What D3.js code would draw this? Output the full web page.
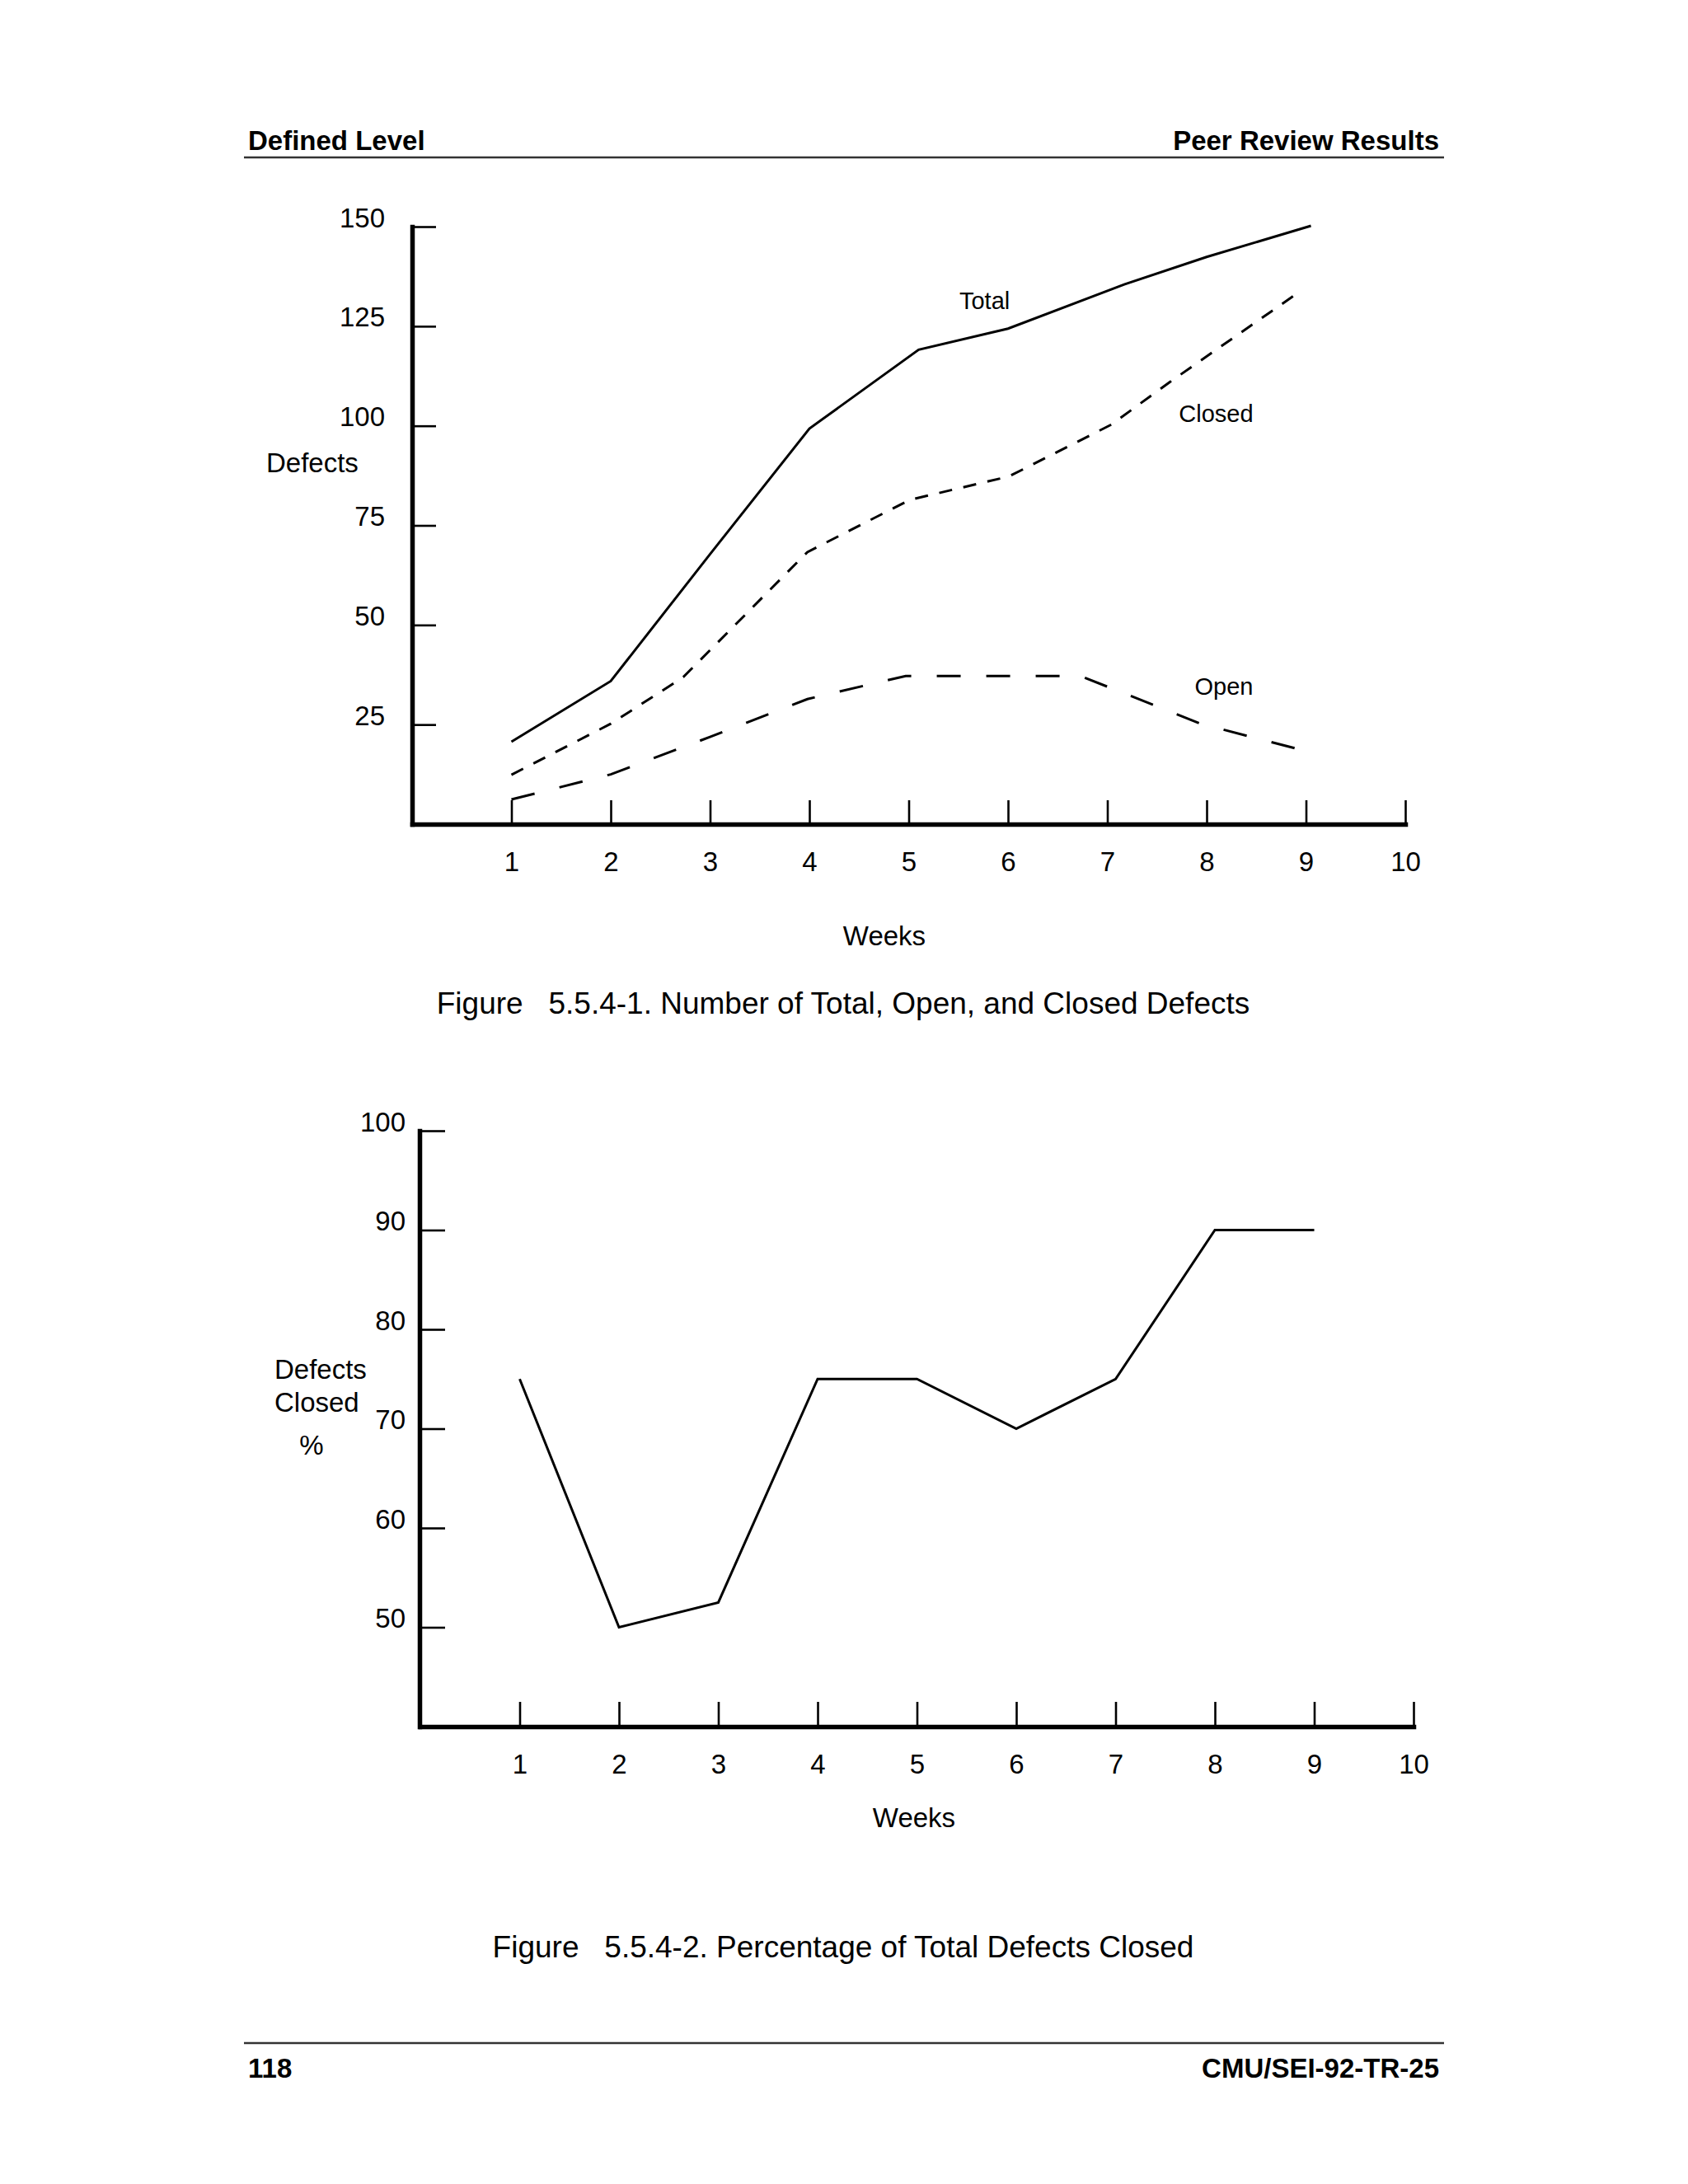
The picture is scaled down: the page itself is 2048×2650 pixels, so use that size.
<!DOCTYPE html>
<html>
<head>
<meta charset="utf-8">
<script src="https://cdn.jsdelivr.net/npm/d3@7"></script>
<style>
  body { margin: 0; background: #fff; }
  svg { display: block; font-family: "Liberation Sans", Arial, Helvetica, sans-serif; }
</style>
</head>
<body>
<div id="page"></div>
<script>
// tick values
const weekTicks = [1, 2, 3, 4, 5, 6, 7, 8, 9, 10]
const defectTicks = [25, 50, 75, 100, 125, 150]
const percentTicks = [50, 60, 70, 80, 90, 100]

// figure 5.5.4-1 (some bends sit a bit off the week ticks)
const totalWeeks = [1, 2, 3, 4, 5.1, 6, 7.17, 8, 9.05]
const totalDefects = [20.7, 35.9, 67.8, 99.3, 119.1, 124.4, 135.5, 142.4, 150.2]

const closedWeeks = [1, 2, 2.73, 3.98, 5.01, 6.01, 7.04, 7.63, 8.92]
const closedDefects = [12.4, 25.2, 36.9, 68.3, 81.4, 87.3, 100.3, 111, 133.4]

const openWeeks = [1, 2, 3, 3.98, 4.97, 6.73, 7.94, 8.99]
const openDefects = [6.2, 12.5, 21.9, 31.4, 37.2, 37.2, 25.2, 18.4]

// figure 5.5.4-2
const pctWeeks = [1, 2, 3, 4, 5, 6, 7, 8, 9]
const pctClosed = [75, 50, 52.5, 75, 75, 70, 75, 90, 90]


const width = 2048
const height = 2650

const svg = d3.select("#page")
    .append("svg")
    .attr("width", width)
    .attr("height", height)

svg.append("rect").attr("width", width).attr("height", height).attr("fill", "#fff")

// page header / footer
const pageRule = (y) => svg.append("line")
    .attr("x1", 296).attr("x2", 1752)
    .attr("y1", y).attr("y2", y)
    .attr("stroke", "#333").attr("stroke-width", 2.5)

pageRule(191)
pageRule(2479)

const boldText = (x, y, anchor, txt) => svg.append("text")
    .attr("x", x).attr("y", y)
    .attr("text-anchor", anchor)
    .attr("font-size", 33).attr("font-weight", "bold")
    .text(txt)

boldText(301, 182, "start", "Defined Level")
boldText(1746, 182, "end", "Peer Review Results")
boldText(301, 2521, "start", "118")
boldText(1746, 2521, "end", "CMU/SEI-92-TR-25")


const plainText = (x, y, anchor, size, txt) => svg.append("text")
    .attr("x", x).attr("y", y)
    .attr("text-anchor", anchor)
    .attr("font-size", size)
    .style("white-space", "pre")
    .text(txt)

// axis styling, thick spine and thin ticks like the print
const styleAxis = (g) => {
    g.attr("font-family", null).attr("font-size", 33)
    g.select(".domain").attr("stroke", "#000").attr("stroke-width", 5.5).attr("stroke-linecap", "square")
    g.selectAll(".tick line").attr("stroke", "#000").attr("stroke-width", 2.6)
    g.selectAll(".tick text").attr("fill", "#000")
}

const drawAxes = (x, y, yTicks, yAxisX, xAxisY, yPad, yTick, xTick) => {
    svg.append("g")
        .attr("transform", `translate(0,${xAxisY})`)
        .call(d3.axisBottom(x).tickValues(weekTicks).tickSizeInner(-xTick).tickSizeOuter(0).tickPadding(0))
        .call(styleAxis)
        .call(g => g.selectAll(".tick text").attr("y", 57).attr("dy", 0))

    svg.append("g")
        .attr("transform", `translate(${yAxisX},0)`)
        .call(d3.axisLeft(y).tickValues(yTicks).tickSizeInner(-yTick).tickSizeOuter(0).tickPadding(yPad))
        .call(styleAxis)
        .call(g => g.selectAll(".tick text").attr("dy", 0))
}


// ---------- Figure 5.5.4-1 ----------
const x1 = d3.scaleLinear().domain([0, 10]).range([500, 1705])
const y1 = d3.scaleLinear().domain([0, 150]).range([1000, 275])

drawAxes(x1, y1, defectTicks, 500, 1000, 33, 29, 29)

const line1 = d3.line().x(d => x1(d[0])).y(d => y1(d[1]))

const series1 = [
    { name: "Total", pts: d3.zip(totalWeeks, totalDefects), dash: null },
    { name: "Closed", pts: d3.zip(closedWeeks, closedDefects), dash: "16,14" },
    { name: "Open", pts: d3.zip(openWeeks, openDefects), dash: "29,31" }
]

svg.append("g")
    .selectAll("path")
    .data(series1)
    .join("path")
    .attr("d", d => line1(d.pts))
    .attr("fill", "none")
    .attr("stroke", "#000")
    .attr("stroke-width", 3)
    .attr("stroke-dasharray", d => d.dash)

// series names, anchored in data units
const seriesLabels = [
    { text: "Total", week: 5.51, value: 129.3 },
    { text: "Closed", week: 7.72, value: 101 },
    { text: "Open", week: 7.88, value: 32.5 }
]
svg.append("g")
    .selectAll("text")
    .data(seriesLabels)
    .join("text")
    .attr("x", d => x1(d.week))
    .attr("y", d => y1(d.value))
    .attr("font-size", 29)
    .text(d => d.text)

plainText(323, 573, "start", 33, "Defects")
plainText(1073, 1147, "middle", 33, "Weeks")
plainText(1023, 1230, "middle", 37, "Figure   5.5.4-1. Number of Total, Open, and Closed Defects")


// ---------- Figure 5.5.4-2 ----------
const x2 = d3.scaleLinear().domain([0, 10]).range([510, 1715])
const y2 = d3.scaleLinear().domain([40, 100]).range([2095, 1372])

drawAxes(x2, y2, percentTicks, 509, 2095, 17, 31, 30)

const line2 = d3.line().x((d, i) => x2(pctWeeks[i])).y(d => y2(d))

svg.append("path")
    .datum(pctClosed)
    .attr("d", line2)
    .attr("fill", "none")
    .attr("stroke", "#000")
    .attr("stroke-width", 3)

plainText(333, 1673, "start", 33, "Defects")
plainText(333, 1713, "start", 33, "Closed")
plainText(378, 1765, "middle", 33, "%")
plainText(1109, 2217, "middle", 33, "Weeks")
plainText(1023, 2375, "middle", 37, "Figure   5.5.4-2. Percentage of Total Defects Closed")
</script>
</body>
</html>
